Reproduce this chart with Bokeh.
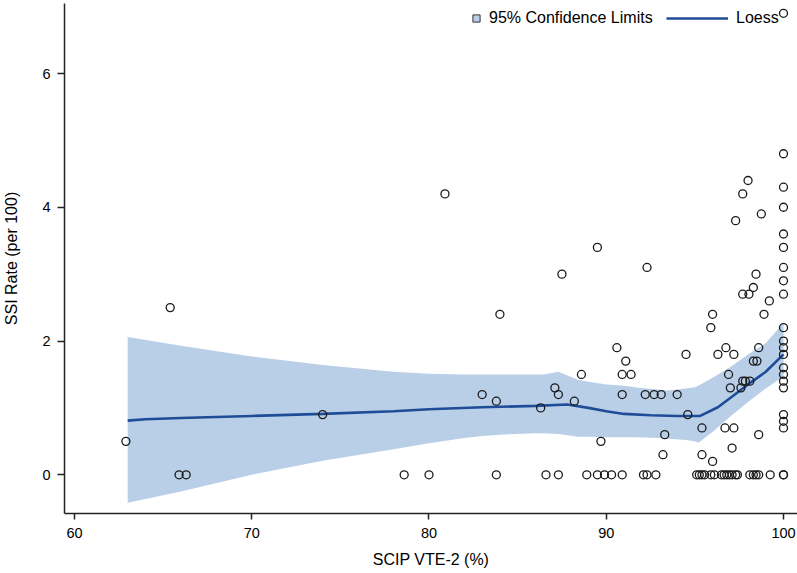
from bokeh.plotting import figure
from bokeh.models import Range1d, Legend, LegendItem, FixedTicker
from bokeh.embed import file_html
from bokeh.resources import INLINE

# ---- data ----
pt_x = [62.9, 65.4, 65.9, 66.3, 74.0, 78.6, 80.0, 80.9, 83.0, 83.8, 84.0, 83.8,
        86.3, 86.6, 87.1, 87.3, 87.3, 87.5, 88.2, 88.6, 88.9, 89.5, 89.5, 89.7,
        89.9, 90.3, 90.6, 90.9, 90.9, 90.9, 91.1, 91.4, 92.1, 92.2, 92.3, 92.3,
        92.7, 92.8, 93.1, 93.2, 93.3, 94.0, 94.5, 94.6, 95.4, 95.4, 95.9, 96.0,
        96.0, 96.3, 96.75, 96.7, 96.9, 97.0, 97.1, 97.2, 97.2, 97.3, 97.6, 97.7,
        97.7, 97.7, 97.85, 98.0, 98.05, 98.1, 98.3, 98.3, 98.45, 98.5, 98.6, 98.6,
        98.75, 98.9, 99.2,
        95.1, 95.25, 95.4, 95.55, 95.9, 96.1, 96.5, 96.65, 96.8, 96.95, 97.1,
        97.3, 97.4, 98.1, 98.3, 98.45, 98.6, 99.25, 100.0, 100.0,
        100.0, 100.0, 100.0, 100.0, 100.0, 100.0, 100.0, 100.0, 100.0, 100.0,
        100.0, 100.0, 100.0, 100.0, 100.0, 100.0, 100.0, 100.0, 100.0, 100.0]
pt_y = [0.5, 2.5, 0.0, 0.0, 0.9, 0.0, 0.0, 4.2, 1.2, 1.1, 2.4, 0.0,
        1.0, 0.0, 1.3, 1.2, 0.0, 3.0, 1.1, 1.5, 0.0, 3.4, 0.0, 0.5,
        0.0, 0.0, 1.9, 1.5, 1.2, 0.0, 1.7, 1.5, 0.0, 1.2, 3.1, 0.0,
        1.2, 0.0, 1.2, 0.3, 0.6, 1.2, 1.8, 0.9, 0.7, 0.3, 2.2, 2.4,
        0.2, 1.8, 1.9, 0.7, 1.5, 1.3, 0.4, 1.8, 0.7, 3.8, 1.3, 4.2,
        1.4, 2.7, 1.4, 4.4, 2.7, 1.4, 2.8, 1.7, 3.0, 1.7, 1.9, 0.6,
        3.9, 2.4, 2.6,
        0.0, 0.0, 0.0, 0.0, 0.0, 0.0, 0.0, 0.0, 0.0, 0.0, 0.0,
        0.0, 0.0, 0.0, 0.0, 0.0, 0.0, 0.0, 0.0, 0.0,
        6.9, 4.8, 4.3, 4.0, 3.6, 3.4, 3.1, 2.9, 2.7, 2.2,
        2.0, 1.9, 1.8, 1.6, 1.5, 1.3, 1.4, 0.9, 0.8, 0.7]

fit_x = [63, 64, 66, 70, 74, 78, 80, 83, 86, 87.8, 89, 90, 91, 92.5, 94, 95.3,
         96.3, 97.2, 98.1, 99, 100]
fit_y = [0.81, 0.83, 0.85, 0.88, 0.91, 0.95, 0.98, 1.01, 1.03, 1.05, 1.00, 0.95,
         0.91, 0.89, 0.88, 0.88, 1.01, 1.19, 1.37, 1.54, 1.80]

band_x = [63, 66, 70, 74, 78, 80, 82, 83, 84, 86, 86.5, 87.3, 88.4, 89, 90, 91,
          91.6, 93, 93.5, 94.5, 95, 95.2, 96, 97, 98, 99, 100]
band_lo = [-0.42, -0.25, 0.0, 0.21, 0.38, 0.47, 0.55, 0.58, 0.60, 0.62, 0.62, 0.61,
           0.57, 0.57, 0.56, 0.56, 0.56, 0.55, 0.54, 0.52, 0.50, 0.48, 0.64, 0.87,
           1.09, 1.29, 1.47]
band_hi = [2.06, 1.93, 1.77, 1.64, 1.54, 1.51, 1.50, 1.50, 1.50, 1.50, 1.50, 1.54,
           1.42, 1.39, 1.35, 1.33, 1.31, 1.27, 1.26, 1.29, 1.31, 1.33, 1.45, 1.61,
           1.80, 1.97, 2.27]

x_ticks = [60, 70, 80, 90, 100]
y_ticks = [0, 2, 4, 6]

FONT = "Liberation Sans"
BAND = "#b9cfe8"
LINE = "#1f4c96"

p = figure(frame_width=733, frame_height=510,
           x_range=Range1d(59.4358, 100.79), y_range=Range1d(-0.579, 7.047),
           output_backend="svg", toolbar_location=None,
           min_border_left=60, min_border_right=4, min_border_top=3,
           min_border_bottom=60)
p.background_fill_color = "white"
p.border_fill_color = "white"
p.outline_line_color = None
p.grid.visible = False

band = p.varea(x=band_x, y1=band_lo, y2=band_hi, fill_color=BAND, fill_alpha=1.0)
fit = p.line(x=fit_x, y=fit_y, line_color=LINE, line_width=2.6)
p.scatter(x=pt_x, y=pt_y, marker="circle", size=8, fill_color=None,
          line_color="#1a1a1a", line_width=1.3)

# legend proxy for the confidence band (small square), placed off-range
proxy = p.scatter(x=[0], y=[-50], marker="square", fill_color=BAND,
                  line_color="#333333", line_width=1)

for ax in (p.xaxis[0], p.yaxis[0]):
    ax.axis_line_color = "#222222"
    ax.axis_line_width = 1.5
    ax.major_tick_line_color = "#222222"
    ax.major_tick_line_width = 1.5
    ax.minor_tick_line_color = None
    ax.major_tick_in = 0
    ax.major_label_text_font = FONT
    ax.major_label_text_font_size = "14.5px"
    ax.major_label_text_color = "black"
    ax.axis_label_text_font = FONT
    ax.axis_label_text_font_size = "16px"
    ax.axis_label_text_font_style = "normal"
    ax.axis_label_text_color = "black"

p.xaxis.ticker = FixedTicker(ticks=x_ticks)
p.yaxis.ticker = FixedTicker(ticks=y_ticks)
p.xaxis.axis_label = "SCIP VTE-2 (%)"
p.yaxis.axis_label = "SSI Rate (per 100)"
p.xaxis.major_tick_out = 6
p.xaxis.major_label_standoff = 8
p.xaxis.axis_label_standoff = 10
p.yaxis.major_tick_out = 7
p.yaxis.major_label_standoff = 7
p.yaxis.axis_label_standoff = 19

def make_legend(items, loc, gw, gh, standoff):
    lg = Legend(items=items, location=loc, orientation="horizontal",
                glyph_width=gw, glyph_height=gh, label_height=gh,
                label_standoff=standoff, padding=0, margin=0, spacing=0,
                border_line_color=None, background_fill_alpha=0,
                label_text_font=FONT, label_text_font_size="16px",
                label_text_color="black")
    return lg

lg1 = make_legend([LegendItem(label="95% Confidence Limits", renderers=[proxy])],
                  (403, 486), 18, 18, 4)
lg2 = make_legend([LegendItem(label="Loess", renderers=[fit])],
                  (602, 486), 62, 18, 8)
p.add_layout(lg1, "center")
p.add_layout(lg2, "center")

open("out.html", "w").write(file_html(p, INLINE))
